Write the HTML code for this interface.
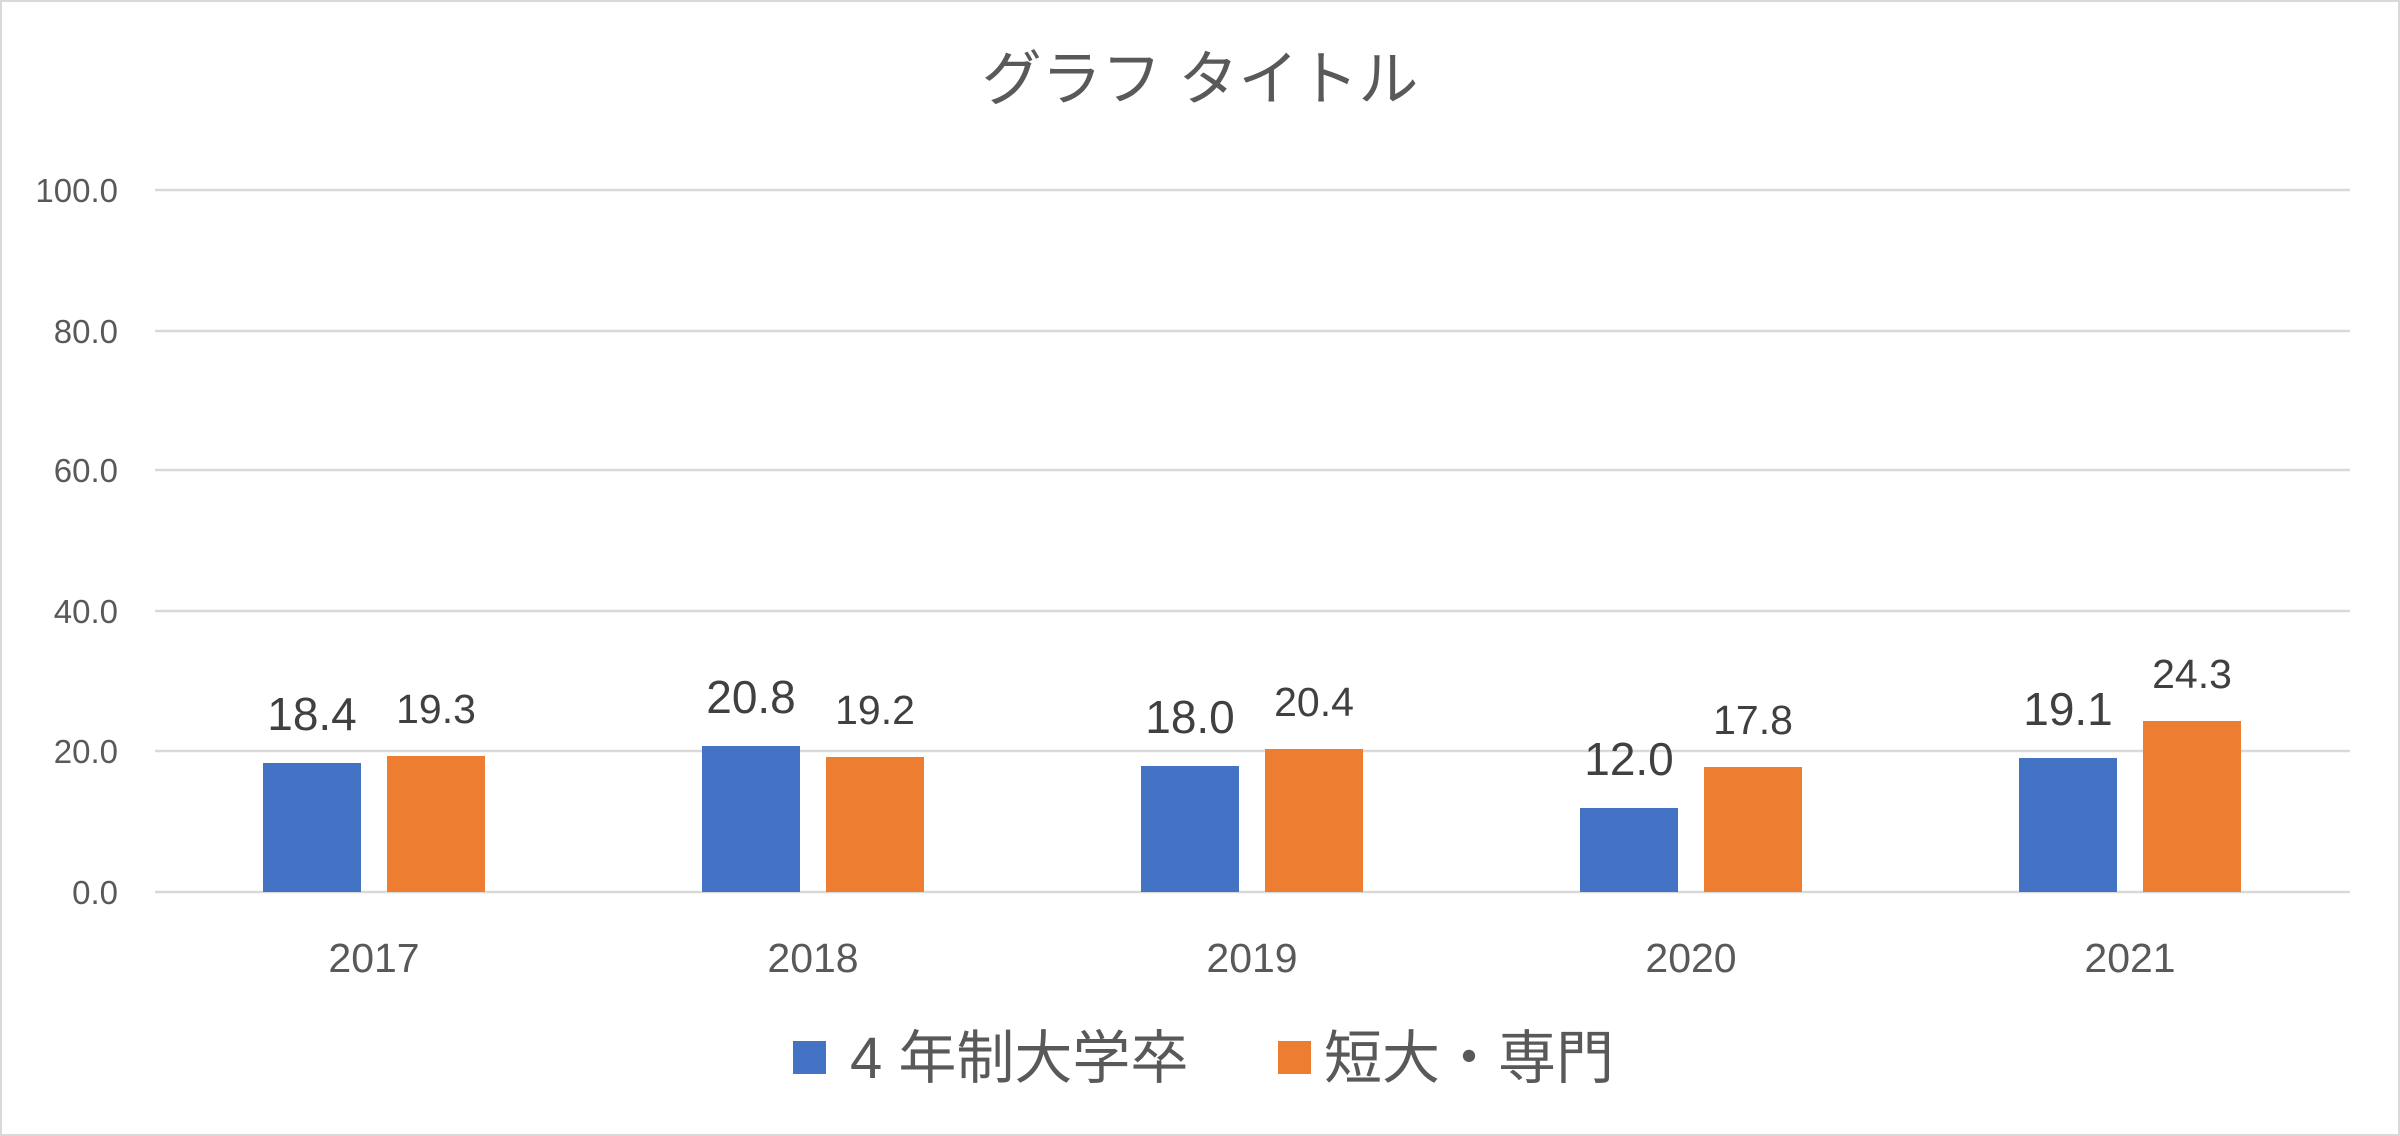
<!DOCTYPE html>
<html><head><meta charset="utf-8"><style>
html,body{margin:0;padding:0;background:#fff;}
svg{display:block;}
text{font-family:"Liberation Sans","Noto Sans CJK JP",sans-serif;}
</style></head><body>
<svg width="2400" height="1136" viewBox="0 0 2400 1136" xmlns="http://www.w3.org/2000/svg">
<rect x="1" y="1" width="2398" height="1134" fill="#fff" stroke="#d9d9d9" stroke-width="2"/>
<text x="1200" y="100" text-anchor="middle" font-size="60" fill="#595959">グラフ タイトル</text>
<g stroke="#d9d9d9" stroke-width="2.5">
<line x1="155" x2="2350" y1="190" y2="190"/>
<line x1="155" x2="2350" y1="331" y2="331"/>
<line x1="155" x2="2350" y1="470" y2="470"/>
<line x1="155" x2="2350" y1="611" y2="611"/>
<line x1="155" x2="2350" y1="751" y2="751"/>
<line x1="155" x2="2350" y1="892" y2="892"/>
</g>
<g font-size="33" fill="#595959" text-anchor="end">
<text x="118" y="202">100.0</text>
<text x="118" y="343">80.0</text>
<text x="118" y="482">60.0</text>
<text x="118" y="623">40.0</text>
<text x="118" y="763">20.0</text>
<text x="118" y="904">0.0</text>
</g>
<g>
<rect x="263" y="763" width="98" height="129" fill="#4472c4"/>
<rect x="387" y="756" width="98" height="136" fill="#ed7d31"/>
<rect x="702" y="746" width="98" height="146" fill="#4472c4"/>
<rect x="826" y="757" width="98" height="135" fill="#ed7d31"/>
<rect x="1141" y="766" width="98" height="126" fill="#4472c4"/>
<rect x="1265" y="749" width="98" height="143" fill="#ed7d31"/>
<rect x="1580" y="808" width="98" height="84" fill="#4472c4"/>
<rect x="1704" y="767" width="98" height="125" fill="#ed7d31"/>
<rect x="2019" y="758" width="98" height="134" fill="#4472c4"/>
<rect x="2143" y="721" width="98" height="171" fill="#ed7d31"/>
</g>
<g font-size="46" fill="#404040" text-anchor="middle">
<text x="312" y="730">18.4</text>
<text x="751" y="713">20.8</text>
<text x="1190" y="733">18.0</text>
<text x="1629" y="775">12.0</text>
<text x="2068" y="725">19.1</text>
</g>
<g font-size="41" fill="#404040" text-anchor="middle">
<text x="436" y="723">19.3</text>
<text x="875" y="724">19.2</text>
<text x="1314" y="716">20.4</text>
<text x="1753" y="734">17.8</text>
<text x="2192" y="688">24.3</text>
</g>
<g font-size="41" fill="#595959" text-anchor="middle">
<text x="374" y="972">2017</text>
<text x="813" y="972">2018</text>
<text x="1252" y="972">2019</text>
<text x="1691" y="972">2020</text>
<text x="2130" y="972">2021</text>
</g>
<rect x="793" y="1041" width="33" height="33" fill="#4472c4"/>
<text x="850" y="1078" font-size="58" fill="#595959">4 年制大学卒</text>
<rect x="1278" y="1041" width="33" height="33" fill="#ed7d31"/>
<text x="1324" y="1078" font-size="58" fill="#595959">短大・専門</text>
</svg>
</body></html>
